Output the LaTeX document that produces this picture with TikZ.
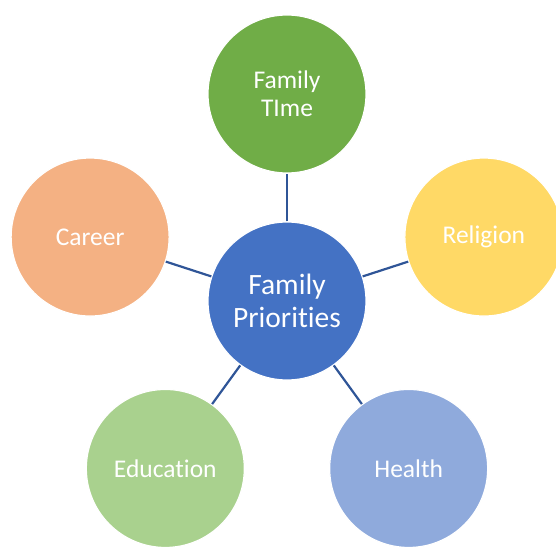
\documentclass[tikz,border=0pt]{standalone}
\usepackage{fontspec}
\setmainfont{Carlito}[Ligatures=NoCommon]
\definecolor{hubblue}{HTML}{4472C4}
\definecolor{timegreen}{HTML}{70AD47}
\definecolor{relyellow}{HTML}{FFD966}
\definecolor{careerorange}{HTML}{F4B183}
\definecolor{edugreen}{HTML}{A9D18E}
\definecolor{healthblue}{HTML}{8FAADC}
\definecolor{linkblue}{HTML}{2F5597}
\tikzset {
  bubble/.style = {
    draw = white,
    line width = 1.2pt,
    circle,
    minimum size = 158pt,
    inner sep = 0,
    align = center,
    text = white
  },
  % the middle circle
  hub/.style = {
    bubble,
    fill = hubblue,
    font = \fontsize{29.5}{33}\selectfont
  },
  % one circle round the middle
  topic/.style = {
    bubble,
    font = \fontsize{25.5}{28}\selectfont
  },
  link/.style = {
    draw = linkblue,
    line width = 2.2pt
  }
}

\begin{document}
\begin{tikzpicture}
    \clip (-287pt,-245pt) rectangle (269pt,301pt);

    \node[hub] (prio) at (0,0) {Family\\Priorities};
    \node[topic, fill = timegreen] (time) at (90:207pt) {Family\\TIme};
    \node[topic, fill = relyellow] (religion) at (18:207pt) {Religion};
    \node[topic, fill = healthblue] (health) at (-54:207pt) {Health};
    \node[topic, fill = edugreen] (education) at (-126:207pt) {Education};
    \node[topic, fill = careerorange] (career) at (162:207pt) {Career};

    \draw[link] (prio) -- (time);
    \draw[link] (prio) -- (religion);
    \draw[link] (prio) -- (health);
    \draw[link] (prio) -- (education);
    \draw[link] (prio) -- (career);
\end{tikzpicture}
\end{document}
